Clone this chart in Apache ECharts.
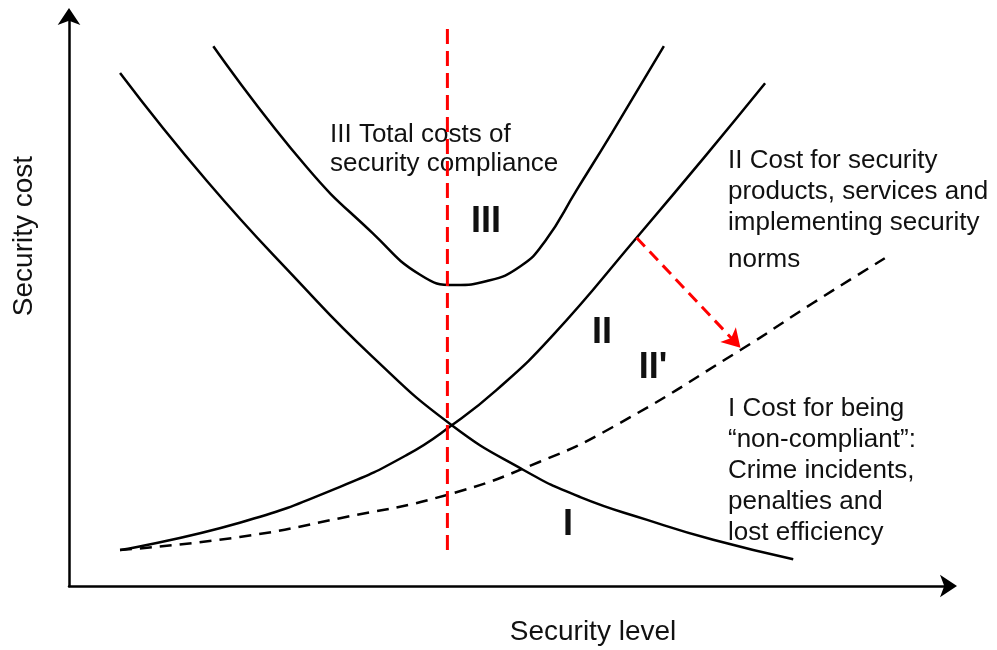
<!DOCTYPE html>
<html>
<head>
<meta charset="utf-8">
<title>Security cost vs security level</title>
<script src="https://cdn.jsdelivr.net/npm/echarts@6/dist/echarts.min.js"></script>
<style>
  html, body { margin: 0; padding: 0; background: #fff; }
  #chart { width: 997px; height: 650px; }
</style>
</head>
<body>
<div id="chart"></div>
<script>
// values, x = security level, y = security cost (0-100)
var curveI = [[5.8, 90.0], [15.7, 71.0], [25.9, 53.7], [34.5, 40.2], [43.5, 28.2], [51.6, 20.4], [58.1, 15.6], [65.7, 11.6], [73.2, 8.1], [82.3, 4.7]];
var curveII = [[5.8, 6.3], [19.4, 11.1], [30.8, 17.4], [38.4, 23.0], [43.5, 28.2], [48.6, 34.4], [55.0, 44.0], [64.5, 61.1], [72.4, 75.6], [79.1, 88.2]];
var curveIII = [[16.4, 94.7], [27.0, 73.5], [34.5, 61.9], [39.9, 54.6], [43.9, 52.8], [47.5, 53.5], [51.3, 56.1], [54.1, 60.5], [57.7, 69.5], [61.7, 79.5], [67.6, 94.7]];
var curveII2 = [[5.8, 6.3], [19.4, 8.6], [30.8, 11.9], [43.0, 16.0], [53.5, 21.8], [61.8, 27.9], [76.3, 41.4], [84.5, 49.6], [92.7, 57.5]];
var optimumLine = [[43.0, 6.3], [43.0, 98.1]];
var shiftArrow = [[64.5, 61.1], [76.3, 41.8]];

var axisNames = ["Security level", "Security cost"];
var noteIII = "III Total costs of\nsecurity compliance";
var noteII = "II Cost for security\nproducts, services and\nimplementing security";
var noteII2 = "norms";
var noteI = "I Cost for being\n\u201cnon-compliant\u201d:\nCrime incidents,\npenalties and\nlost efficiency";
var romanLabels = ["III", "II", "II'", "I"];

var font = "Liberation Sans, Arial, sans-serif";
var chart = echarts.init(document.getElementById("chart"));

function curve(name, data, dashed) {
  return {
    name: name,
    type: "line",
    data: data,
    smooth: 0.5,
    showSymbol: false,
    silent: true,
    lineStyle: {
      color: "#000",
      width: 2.5,
      type: dashed ? [12, 8] : "solid"
    }
  };
}

function txt(x, y, text, opts) {
  opts = opts || {};
  return {
    type: "text",
    x: x,
    y: y,
    rotation: opts.rotation || 0,
    style: {
      text: text,
      font: (opts.bold ? "bold " : "") + (opts.size || 26) + "px " + font,
      fill: "#111",
      align: opts.align || "left",
      verticalAlign: opts.valign || "top",
      lineHeight: opts.lh || 31
    }
  };
}

var axisLine = {
  show: true,
  symbol: ["none", "arrow"],
  symbolSize: [17, 17],
  symbolOffset: [0, 8],
  lineStyle: { color: "#000", width: 2.5 }
};

chart.setOption({
  animation: false,
  backgroundColor: "#fff",
  grid: { left: 69, right: 48, top: 16, bottom: 64 },
  xAxis: {
    type: "value",
    min: 0,
    max: 100,
    axisLine: axisLine,
    axisTick: { show: false },
    axisLabel: { show: false },
    splitLine: { show: false }
  },
  yAxis: {
    type: "value",
    min: 0,
    max: 100,
    axisLine: axisLine,
    axisTick: { show: false },
    axisLabel: { show: false },
    splitLine: { show: false }
  },
  series: [
    curve("I", curveI),
    curve("II", curveII),
    curve("III", curveIII),
    curve("II'", curveII2, true),
    {
      name: "optimum",
      type: "line",
      data: optimumLine,
      showSymbol: false,
      silent: true,
      lineStyle: { color: "#ff0000", width: 3, type: [15, 7] },
      markLine: {
        silent: true,
        symbol: ["none", "arrow"],
        symbolSize: [16, 18],
        label: { show: false },
        lineStyle: { color: "#ff0000", width: 3, type: [12, 7] },
        data: [[{ coord: shiftArrow[0] }, { coord: shiftArrow[1] }]]
      }
    }
  ],
  graphic: [
    txt(593, 632, axisNames[0], { size: 28, align: "center", valign: "middle" }),
    txt(24, 236, axisNames[1], { size: 28, align: "center", valign: "middle", rotation: Math.PI / 2 }),
    txt(330, 120, noteIII, { lh: 29 }),
    txt(728, 145, noteII),
    txt(728, 244, noteII2),
    txt(728, 393, noteI),
    txt(486, 222, romanLabels[0], { bold: true, size: 36, align: "center", valign: "middle" }),
    txt(602, 333, romanLabels[1], { bold: true, size: 36, align: "center", valign: "middle" }),
    txt(653, 368, romanLabels[2], { bold: true, size: 36, align: "center", valign: "middle" }),
    txt(568, 525, romanLabels[3], { bold: true, size: 36, align: "center", valign: "middle" })
  ]
});
</script>
</body>
</html>
